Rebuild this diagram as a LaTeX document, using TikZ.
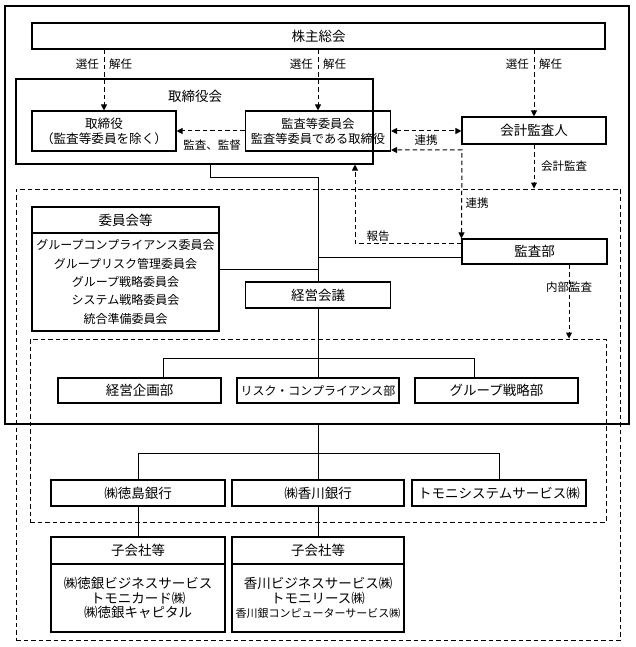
\documentclass[tikz,border=0pt]{standalone}
\usepackage{fontspec}
\newfontfamily\jp{Noto Sans CJK JP}
\usetikzlibrary{arrows.meta}
\begin{document}
\begin{tikzpicture}[x=1pt,y=-1pt,
  box/.style={draw,line width=1.1pt,inner sep=0pt,align=center,font=\jp\fontsize{13.5}{15}\selectfont},
  frame/.style={draw,line width=1.1pt,inner sep=0pt},
  dframe/.style={draw,line width=1pt,inner sep=0pt,dash pattern=on 4.5pt off 3pt},
  conn/.style={draw,line width=1pt},
  darr/.style={draw,line width=1pt,dash pattern=on 4.5pt off 3pt,-{Triangle[length=6pt,width=6pt]}},
  ddarr/.style={draw,line width=1pt,dash pattern=on 4.5pt off 3pt,{Triangle[length=6pt,width=6pt]}-{Triangle[length=6pt,width=6pt]}},
  lbl/.style={font=\jp\fontsize{11.5}{13}\selectfont,inner sep=0pt},
]
\useasboundingbox (0,0) rectangle (636,647);

% frames
\node[frame,minimum width=624pt,minimum height=418pt] (hold) at (317,215) {};
\node[dframe,minimum width=604pt,minimum height=451pt] (grp) at (318,414.5) {};
\node[dframe,minimum width=576pt,minimum height=183pt] (inner) at (318,430.5) {};
\node[frame,minimum width=357pt,minimum height=85pt] (bd) at (194.5,121.5) {};
\node[box,draw=none] (bdt) at (195,96) {取締役会};

% boxes
\node[box,minimum width=573pt,minimum height=26pt] (sh) at (318.5,36) {株主総会};
\node[box,minimum width=144pt,minimum height=40pt,font=\jp\fontsize{12.6}{15}\selectfont] (dir) at (104,131) {取締役\\（監査等委員を除く）};
\node[box,minimum width=145pt,minimum height=40pt,font=\jp\fontsize{12.2}{15}\selectfont] (acm) at (318,131) {監査等委員会\\監査等委員である取締役};
\node[box,minimum width=144pt,minimum height=27pt] (aud) at (534,130.5) {会計監査人};

\node[box,minimum width=187pt,minimum height=26pt] (comh) at (125.5,220) {委員会等};
\node[box,minimum width=187pt,minimum height=98pt,font=\jp\fontsize{12}{18.3}\selectfont] (comb) at (125.5,282) {グループコンプライアンス委員会\\グループリスク管理委員会\\グループ戦略委員会\\システム戦略委員会\\統合準備委員会};
\node[box,minimum width=145pt,minimum height=26pt] (mtg) at (318,295) {経営会議};
\node[box,minimum width=145pt,minimum height=25pt] (iad) at (534.5,251.5) {監査部};

\node[box,minimum width=163pt,minimum height=25pt] (d1) at (139.5,390.5) {経営企画部};
\node[box,minimum width=162pt,minimum height=25pt,font=\jp\fontsize{12}{14}\selectfont] (d2) at (318,390.5) {リスク・コンプライアンス部};
\node[box,minimum width=163pt,minimum height=25pt] (d3) at (496.5,390.5) {グループ戦略部};

\node[box,minimum width=174pt,minimum height=26pt] (b1) at (138,493) {㈱徳島銀行};
\node[box,minimum width=172pt,minimum height=26pt] (b2) at (318,493) {㈱香川銀行};
\node[box,minimum width=174pt,minimum height=26pt] (b3) at (499,493) {トモニシステムサービス㈱};

\node[box,minimum width=174pt,minimum height=27pt] (s1h) at (138,550.5) {子会社等};
\node[box,minimum width=174pt,minimum height=68pt,font=\jp\fontsize{13.5}{14.7}\selectfont] (s1b) at (138,598) {㈱徳銀ビジネスサービス\\トモニカード㈱\\㈱徳銀キャピタル};
\node[box,minimum width=172pt,minimum height=27pt] (s2h) at (318,550.5) {子会社等};
\node[box,minimum width=172pt,minimum height=68pt,font=\jp\fontsize{13.5}{14.7}\selectfont] (s2b) at (318,598) {香川ビジネスサービス㈱\\トモニリース㈱\\{\fontsize{11}{14.7}\selectfont 香川銀コンピューターサービス㈱}};

% election arrows
\draw[darr] (dir.north |- sh.south) -- (dir.north);
\draw[darr] (acm.north |- sh.south) -- (acm.north);
\draw[darr] (aud.north |- sh.south) -- (aud.north);
\node[lbl,anchor=east] (l1a) at (99,64) {選任};
\node[lbl,anchor=west] (l1b) at (109,64) {解任};
\node[lbl,anchor=east] (l2a) at (313,64) {選任};
\node[lbl,anchor=west] (l2b) at (323,64) {解任};
\node[lbl,anchor=east] (l3a) at (529,64) {選任};
\node[lbl,anchor=west] (l3b) at (539,64) {解任};

% audit / supervise
\draw[darr] (acm.west) -- (dir.east);
\node[lbl] (lk) at (212,145) {監査、監督};
\draw[ddarr] (acm.east) -- (aud.west |- acm.east);
\node[lbl] (lr1) at (426,140) {連携};
\coordinate (c1) at (462,150);
\draw[ddarr] (iad.north west) -- (c1) -- (acm.east |- c1);
\node[lbl] (lr2) at (477,203) {連携};
\draw[darr] (aud.south) -- (aud.south |- grp.north);
\node[lbl] (la) at (564,166) {会計監査};
\coordinate (c2) at (355,243);
\draw[darr] (iad.west |- c2) -- (c2) -- (c2 |- bd.south);
\node[lbl] (lh) at (378,236) {報告};
\coordinate (c3) at (569,0);
\draw[darr] (c3 |- iad.south) -- (c3 |- inner.north);
\node[lbl] (li) at (569,287) {内部監査};

% solid organisation lines
\coordinate (c4) at (210,177);
\coordinate (sp) at (318,177);
\draw[conn] (c4 |- bd.south) -- (c4) -- (sp) -- (mtg.north);
\draw[conn] (comb.east |- 0,269) -- (sp |- 0,269);
\draw[conn] (iad.west |- 0,257) -- (sp |- 0,257);
\coordinate (t1l) at (163,358);
\coordinate (t1r) at (474,358);
\draw[conn] (mtg.south) -- (d2.north);
\draw[conn] (t1l |- d1.north) -- (t1l) -- (t1r) -- (t1r |- d3.north);
\coordinate (t2) at (318,453);
\draw[conn] (t2 |- hold.south) -- (b2.north);
\draw[conn] (b1.north) -- (b1.north |- t2) -- (b3.north |- t2) -- (b3.north);
\draw[conn] (b1.south) -- (s1h.north);
\draw[conn] (b2.south) -- (s2h.north);
\end{tikzpicture}
\end{document}
